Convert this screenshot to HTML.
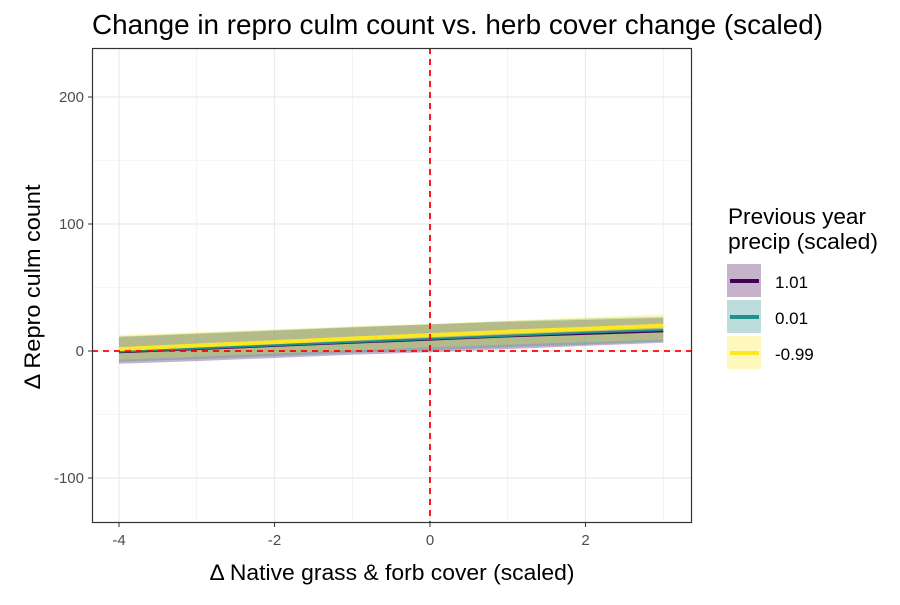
<!DOCTYPE html>
<html><head><meta charset="utf-8"><style>
body{margin:0;background:#fff;}
svg text{font-family:"Liberation Sans",Arial,sans-serif;}
</style></head><body>
<svg id="chart" width="900" height="600" xmlns="http://www.w3.org/2000/svg">
<rect width="900" height="600" fill="#fff"/>
<text x="92" y="34" font-size="27.5" textLength="731" lengthAdjust="spacingAndGlyphs" fill="#000">Change in repro culm count vs. herb cover change (scaled)</text>
<g id="grid"></g>
<g id="ribbons"></g>
<g id="lines"></g>
<g id="refs"></g>
<rect x="92.5" y="48.5" width="599" height="474" fill="none" stroke="#333" stroke-width="1.2"/>
<g id="axes"></g>
<text x="392" y="580" font-size="22" textLength="365" lengthAdjust="spacingAndGlyphs" text-anchor="middle">Δ Native grass &amp; forb cover (scaled)</text>
<text transform="translate(40,287) rotate(-90)" font-size="22" textLength="205" lengthAdjust="spacingAndGlyphs" text-anchor="middle">Δ Repro culm count</text>
<g>
<text x="728" y="224" font-size="22" textLength="138" lengthAdjust="spacingAndGlyphs">Previous year</text>
<text x="728" y="249" font-size="22" textLength="150" lengthAdjust="spacingAndGlyphs">precip (scaled)</text>
<g>
<rect x="727" y="264" width="34" height="33" fill="#440154" fill-opacity="0.3"/>
<line x1="730" x2="759" y1="281" y2="281" stroke="#440154" stroke-width="4"/>
<text x="775" y="288" font-size="17">1.01</text></g>
<g>
<rect x="727" y="300" width="34" height="33" fill="#21908C" fill-opacity="0.3"/>
<line x1="730" x2="759" y1="317" y2="317" stroke="#21908C" stroke-width="4"/>
<text x="775" y="324" font-size="17">0.01</text></g>
<g>
<rect x="727" y="336" width="34" height="33" fill="#FDE725" fill-opacity="0.3"/>
<line x1="730" x2="759" y1="353" y2="353" stroke="#FDE725" stroke-width="4"/>
<text x="775" y="360" font-size="17">-0.99</text></g>
</g>
</svg>
<script>
const xVals=[-4,-3,-2,-1,0,1,2,3];
const seriesNames=["1.01","0.01","-0.99"];
const seriesColors=["#440154","#21908C","#FDE725"];
const fitPurple=[-1,1.5,4,6.5,9,11.5,13.5,15.5];
const fitTeal=[-0.5,2,4.5,7,9.5,12,14.5,16.5];
const fitYellow=[1.5,4.3,7,9.8,12.5,15.2,17.5,20];
const upPurple=[11,13.5,16,18.5,21,23,24.5,26];
const loPurple=[-10,-8,-5.5,-3,-1,1.5,4,6.5];
const upTeal=[11.5,14,16.5,19,21,23.5,25.5,27];
const loTeal=[-8.5,-6.5,-4,-1.5,0.5,3,5,7.5];
const upYellow=[12.6,15,17,19.5,21.5,24,26.5,29];
const loYellow=[-7,-4.5,-2,0.5,3,5,7,9];
const xTicks=[-4,-2,0,2];
const yTicks=[-100,0,100,200];
const NS="http://www.w3.org/2000/svg";
const X=v=>430+v*77.75;
const Y=v=>351-v*1.27;
function mk(tag,attrs,parent){const e=document.createElementNS(NS,tag);for(const k in attrs)e.setAttribute(k,attrs[k]);parent.appendChild(e);return e;}
const grid=document.getElementById('grid'),axes=document.getElementById('axes');
for(let v=-4;v<=3;v+=1){const major=xTicks.includes(v);
 const l=mk('line',{x1:X(v),x2:X(v),y1:48,y2:523,stroke:'#ebebeb','stroke-width':major?1.2:0.6},grid);
 }
for(let v=-100;v<=200;v+=50){const major=yTicks.includes(v);
 const l=mk('line',{x1:92,x2:692,y1:Y(v),y2:Y(v),stroke:'#ebebeb','stroke-width':major?1.2:0.6},grid);
 }
xTicks.forEach(v=>{mk('line',{x1:X(v),x2:X(v),y1:523,y2:527,stroke:'#333'},axes);
 const t=mk('text',{x:X(v),y:545,'font-size':15,fill:'#4d4d4d','text-anchor':'middle'},axes);t.textContent=v;
 });
yTicks.forEach(v=>{mk('line',{x1:88,x2:92,y1:Y(v),y2:Y(v),stroke:'#333'},axes);
 const t=mk('text',{x:84,y:Y(v)+5,'font-size':15,fill:'#4d4d4d','text-anchor':'end'},axes);t.textContent=v;
 });
const rib=document.getElementById('ribbons'),lines=document.getElementById('lines');
const ups=[upPurple,upTeal,upYellow],los=[loPurple,loTeal,loYellow],fits=[fitPurple,fitTeal,fitYellow];
ups.forEach((u,i)=>{let d=xVals.map((x,j)=>(j?'L':'M')+X(x)+','+Y(u[j])).join('');
 for(let j=xVals.length-1;j>=0;j--)d+='L'+X(xVals[j])+','+Y(los[i][j]);
 const p=mk('path',{d:d+'Z',fill:seriesColors[i],'fill-opacity':0.3},rib);
 });
[0,1,2].forEach(i=>{const d=xVals.map((x,j)=>(j?'L':'M')+X(x)+','+Y(fits[i][j])).join('');
 const p=mk('path',{d:d,fill:'none',stroke:seriesColors[i],'stroke-width':i==2?4:2},lines);
 });
const refs=document.getElementById('refs');
const h=mk('line',{x1:92,x2:692,y1:Y(0),y2:Y(0),stroke:'#ff0000','stroke-width':1.8,'stroke-dasharray':'6,5'},refs);

const vl=mk('line',{x1:X(0),x2:X(0),y1:48,y2:523,stroke:'#ff0000','stroke-width':1.8,'stroke-dasharray':'6,5'},refs);

</script>
</body></html>
